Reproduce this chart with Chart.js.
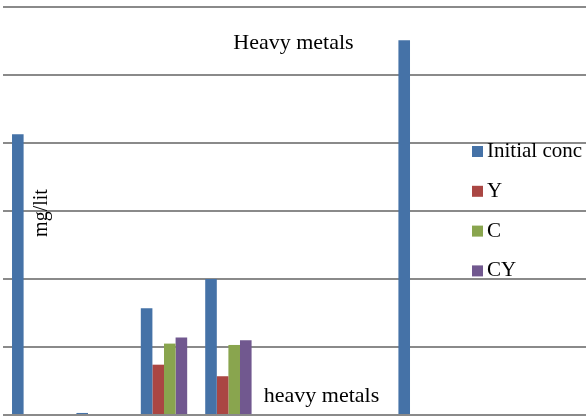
<!DOCTYPE html>
<html lang="en">
<head>
    <meta charset="UTF-8">
    <title>Heavy metals</title>
    <script src="https://cdn.jsdelivr.net/npm/chart.js"></script>
    <style>
        html, body { margin: 0; padding: 0; overflow: hidden; background: #fff; }
        #myChart { display: block; }
    </style>
</head>
<body>
    <canvas id="myChart" width="650" height="420"></canvas>
    <script>
        // categories (their names sit below the cropped area)
        const categories = ['1', '2', '3', '4', '5', '6', '7', '8', '9', '10'];
        const seriesNames = ['Initial conc', 'Y', 'C', 'CY'];
        const initialConc = [4.13, 0.03, 1.57, 2.0, 0, 0, 5.51, 0, 0, 0];
        const yVals = [0, 0, 0.74, 0.57, 0, 0, 0, 0, 0, 0];
        const cVals = [0, 0, 1.05, 1.03, 0, 0, 0, 0, 0, 0];
        const cyVals = [0, 0, 1.14, 1.10, 0, 0, 0, 0, 0, 0];
        const colors = ['#4572A7', '#AA4643', '#89A54E', '#71588F'];

        const serif = '"Liberation Serif", "DejaVu Serif", serif';

        // title, axis titles and legend sit inside the plot, like the original
        const overlayText = {
            id: 'overlayText',
            afterDraw(chart) {
                const ctx = chart.ctx;
                ctx.save();
                ctx.fillStyle = '#000';
                ctx.textBaseline = 'alphabetic';

                ctx.font = '22px ' + serif;
                ctx.textAlign = 'center';
                ctx.fillText('Heavy metals', 293.5, 49);
                ctx.fillText('heavy metals', 321.5, 402);

                ctx.save();
                ctx.translate(47, 213);
                ctx.rotate(-Math.PI / 2);
                ctx.font = '20px ' + serif;
                ctx.fillText('mg/lit', 0, 0);
                ctx.restore();

                // legend
                ctx.font = '21px ' + serif;
                ctx.textAlign = 'left';
                chart.data.datasets.forEach((ds, i) => {
                    const base = 157 + i * 39.8;
                    ctx.fillStyle = ds.backgroundColor;
                    ctx.fillRect(472, base - 11, 11, 11);
                    ctx.fillStyle = '#000';
                    ctx.fillText(ds.label, 487, base);
                });
                ctx.restore();
            }
        };

        const allValues = [initialConc, yVals, cVals, cyVals];
        const ctx = document.getElementById('myChart');
        new Chart(ctx, {
            type: 'bar',
            data: {
                labels: categories,
                datasets: seriesNames.map((name, i) => ({
                    label: name,
                    data: allValues[i],
                    backgroundColor: colors[i],
                    borderWidth: 0
                }))
            },
            options: {
                responsive: false,
                animation: false,
                categoryPercentage: 0.72,
                barPercentage: 1,
                layout: { padding: { left: 3, right: 3, top: 7, bottom: 5 } },
                plugins: {
                    legend: { display: false },
                    tooltip: { enabled: false }
                },
                scales: {
                    x: {
                        grid: { display: false, drawTicks: false },
                        border: { display: false },
                        ticks: { display: false }
                    },
                    y: {
                        min: 0,
                        max: 6,
                        ticks: { display: false, stepSize: 1 },
                        grid: { color: '#8a8a8a', lineWidth: 2, drawTicks: false },
                        border: { display: false }
                    }
                }
            },
            plugins: [overlayText]
        });
    </script>
</body>
</html>
